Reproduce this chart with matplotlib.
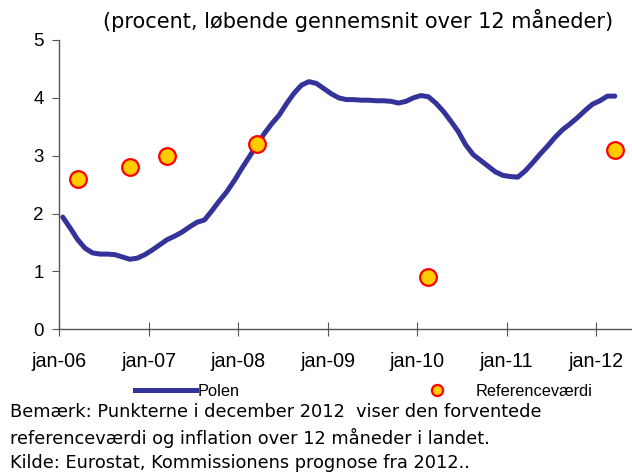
import numpy as np
import matplotlib
matplotlib.use('Agg')
import matplotlib.pyplot as plt
from matplotlib.lines import Line2D

# monthly values, jan-06 .. mar-12
polen = [1.94, 1.75, 1.55, 1.40, 1.32, 1.30, 1.30, 1.29, 1.25, 1.21, 1.23, 1.29,
         1.37, 1.46, 1.55, 1.61, 1.68, 1.77, 1.85, 1.89, 2.05, 2.22, 2.38, 2.57,
         2.78, 2.98, 3.18, 3.38, 3.55, 3.70, 3.90, 4.08, 4.22, 4.28, 4.25, 4.16,
         4.07, 4.00, 3.97, 3.97, 3.96, 3.96, 3.95, 3.95, 3.94, 3.91, 3.94, 4.00,
         4.04, 4.02, 3.91, 3.77, 3.60, 3.42, 3.19, 3.02, 2.92, 2.82, 2.72, 2.66,
         2.64, 2.63, 2.74, 2.88, 3.03, 3.17, 3.32, 3.45, 3.55, 3.66, 3.78, 3.89,
         3.95, 4.03, 4.03]
# reference values: month index (0 = jan-06) and value
ref_month = [2, 9, 14, 26, 49, 74]
ref_value = [2.6, 2.8, 3.0, 3.2, 0.9, 3.1]
year_labels = ['jan-06', 'jan-07', 'jan-08', 'jan-09', 'jan-10', 'jan-11', 'jan-12']

navy = '#333399'

fig = plt.figure(figsize=(6.32, 4.72), dpi=100)
ax = fig.add_axes([59/632, 1-329.3/472, 1-59/632, (329.3-40)/472])

ax.plot(np.arange(len(polen)), polen, color=navy, lw=3.6, solid_capstyle='round', zorder=2)
ax.plot(ref_month, ref_value, 'o', ms=12, mfc='#FFCC00', mec='#FF0000', mew=1.6,
        ls='none', zorder=3, clip_on=False)

ax.set_xlim(-0.5, 76.3)
ax.set_ylim(0, 5)
ax.set_yticks(range(0, 6))
ax.set_xticks([12*k - 0.5 for k in range(len(year_labels))])
ax.set_xticklabels(year_labels)

for s in ['top', 'right']:
    ax.spines[s].set_visible(False)
for s in ['left', 'bottom']:
    ax.spines[s].set_color('#555555')
    ax.spines[s].set_linewidth(1.0)
ax.tick_params(axis='y', direction='out', length=5, color='#555555', pad=6,
               labelsize=13.5, labelfontfamily='Liberation Sans')
ax.tick_params(axis='x', direction='inout', length=10, color='#555555', pad=11,
               labelsize=14.2, labelfontfamily='Liberation Sans')

fig.text(358/632, 1-20/472, '(procent, løbende gennemsnit over 12 måneder)',
         ha='center', va='center', fontsize=15, family='DejaVu Sans')

h1 = Line2D([], [], color=navy, lw=3.6)
leg1 = fig.legend([h1], ['Polen'], loc='center left', bbox_to_anchor=(135/632, 1-391/472),
                  frameon=False, handlelength=3.7, handletextpad=0.15, borderpad=0,
                  borderaxespad=0, prop={'family': 'Liberation Sans', 'size': 11.8})
h2 = Line2D([], [], marker='o', ls='none', ms=8, mfc='#FFCC00', mec='#FF0000', mew=1.6)
leg2 = fig.legend([h2], ['Referenceværdi'], loc='center left', bbox_to_anchor=(430/632, 1-391/472),
                  frameon=False, handlelength=0.9, handletextpad=1.9, borderpad=0,
                  borderaxespad=0, prop={'family': 'Liberation Sans', 'size': 11.8})

notes = ['Bemærk: Punkterne i december 2012  viser den forventede',
         'referenceværdi og inflation over 12 måneder i landet.',
         'Kilde: Eurostat, Kommissionens prognose fra 2012..']
for k, line in enumerate(notes):
    fig.text(10/632, 1-(412+25.5*k)/472, line, ha='left', va='center',
             fontsize=12.8, family='DejaVu Sans')

fig.savefig('out.png', dpi=100)
